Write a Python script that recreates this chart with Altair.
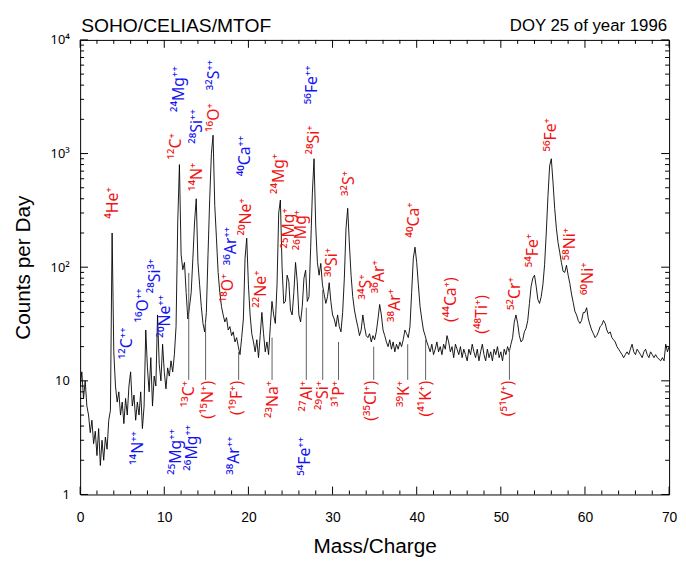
import altair as alt
import pandas as pd

# ---------------- data ----------------
# spectrum sampled every 0.2 mass/charge units, from 0.0 to 70.0
COUNTS = [
    9, 12, 7, 10, 6,            # 0
    5, 3.5, 4.5, 2.8, 3.6,      # 1
    2.2, 3.8, 1.8, 3.0, 2.0,    # 2
    3.2, 2.5, 4.5, 5.5, 200,    # 3
    18, 9, 6.5, 8, 5,           # 4
    6.5, 4.2, 7, 5, 9,          # 5
    12, 6, 7.5, 4.5, 6.5,       # 6
    5, 8, 3.8, 6, 28,           # 7
    13, 8, 16, 6, 11,           # 8
    9, 38, 14, 10, 21,          # 9
    12, 8.5, 13, 11, 15,        # 10
    12, 17, 30, 250, 800,       # 11
    130, 95, 110, 60, 35,       # 12
    45, 60, 120, 250, 400,      # 13
    110, 70, 45, 32, 27,        # 14
    40, 130, 400, 1000, 1450,   # 15
    350, 180, 90, 60, 45,       # 16
    38, 33, 36, 28, 30,         # 17
    25, 27, 22, 24, 20,         # 18
    17, 24, 35, 120, 180,       # 19
    70, 38, 26, 22, 18,         # 20
    23, 16, 25, 40, 26,         # 21
    18, 22, 17, 30, 50,         # 22
    38, 32, 70, 300, 390,       # 23
    100, 48, 50, 85, 75,        # 24
    42, 38, 60, 110, 75,        # 25
    38, 33, 45, 80, 94,         # 26
    50, 55, 150, 450, 900,      # 27
    230, 110, 85, 108, 70,      # 28
    58, 48, 55, 73, 50,         # 29
    38, 35, 30, 38, 30,         # 30
    27, 40, 80, 220, 330,       # 31
    160, 85, 55, 42, 35,        # 32
    30, 25, 28, 38, 30,         # 33
    25, 24, 26, 22, 25,         # 34
    23, 27, 35, 47, 38,         # 35
    28, 25, 22, 20, 23,         # 36
    19, 22, 18, 21, 19,         # 37
    22, 20, 23, 28, 26,         # 38
    24, 30, 60, 120, 150,       # 39
    110, 70, 45, 35, 28,        # 40
    25, 22, 20, 18, 21,         # 41
    17, 19, 22, 18, 20,         # 42
    17, 21, 19, 25, 22,         # 43
    18, 20, 16, 21, 19,         # 44
    17, 20, 16, 19, 17,         # 45
    15, 19, 17, 21, 18,         # 46
    16, 19, 15, 18, 21,         # 47
    17, 15, 19, 16, 18,         # 48
    15, 19, 17, 20, 16,         # 49
    18, 15, 19, 17, 20,         # 50
    18, 21, 24, 33, 38,         # 51
    32, 25, 22, 23, 27,         # 52
    29, 34, 48, 68, 80,         # 53
    85, 68, 52, 48, 55,         # 54
    70, 105, 200, 420, 780,     # 55
    900, 560, 330, 220, 165,    # 56
    135, 110, 92, 90, 104,      # 57
    85, 72, 58, 49, 41,         # 58
    38, 34, 32, 34, 40,         # 59
    40, 44, 35, 31, 28,         # 60
    26, 24, 25, 27, 30,         # 61
    31, 34, 32, 28, 26,         # 62
    27, 24, 23, 22, 20,         # 63
    19, 18, 17, 16, 17,         # 64
    18, 17, 19, 21, 18,         # 65
    17, 19, 18, 17, 16,         # 66
    18, 19, 17, 16, 18,         # 67
    17, 16, 17, 16, 15.5,       # 68
    15, 16, 15, 21, 18,         # 69
    20,                         # 70
]
MASS = [round(i * 0.2, 1) for i in range(len(COUNTS))]

# labels anchored at their lower end
UP_TEXT = ["⁴He⁺", "¹²C⁺", "¹⁴N⁺", "¹⁶O⁺", "¹⁸O⁺", "²⁰Ne⁺", "²²Ne⁺", "²⁴Mg⁺",
           "²⁵Mg⁺", "²⁶Mg⁺", "²⁸Si⁺", "³⁰Si⁺", "³²S⁺", "³⁴S⁺", "³⁶Ar⁺", "³⁸Ar⁺",
           "⁴⁰Ca⁺", "(⁴⁴Ca⁺)", "(⁴⁸Ti⁺)", "⁵²Cr⁺", "⁵⁴Fe⁺", "⁵⁶Fe⁺", "⁵⁸Ni⁺", "⁶⁰Ni⁺",
           "²⁴Mg⁺⁺", "²⁸Si⁺⁺", "³²S⁺⁺", "³⁶Ar⁺⁺", "⁴⁰Ca⁺⁺", "⁵⁶Fe⁺⁺",
           "¹²C⁺⁺", "¹⁶O⁺⁺", "²⁸Si³⁺", "²⁰Ne⁺⁺",
           "¹⁴N⁺⁺", "²⁵Mg⁺⁺", "²⁶Mg⁺⁺", "³⁸Ar⁺⁺", "⁵⁴Fe⁺⁺"]
UP_MASS = [3.87, 11.45, 13.86, 15.87, 17.58, 19.68, 21.49, 23.7,
           24.81, 26.31, 27.82, 29.93, 31.94, 33.95, 35.55, 37.46,
           39.67, 44.09, 47.8, 51.72, 53.83, 55.94, 58.25, 60.36,
           11.75, 13.86, 15.87, 17.88, 19.58, 27.62,
           5.62, 7.53, 8.94, 10.09,
           6.83, 11.35, 13.36, 18.28, 26.71]
UP_COUNT = [267, 887, 467, 1550, 49, 190, 44, 440,
            146, 141, 980, 82, 423, 52, 59, 33,
            182, 33, 26, 42, 100, 1040, 115, 57,
            2320, 1220, 3600, 104, 630, 2720,
            15.5, 32.6, 59, 24,
            1.82, 1.49, 1.62, 1.49, 1.46]
UP_COLOR = ["red"] * 24 + ["blue"] * 15

# labels hanging below the 10 counts level (anchored at their upper end)
LOW_TEXT = ["¹³C⁺", "(¹⁵N⁺)", "(¹⁹F⁺)", "²³Na⁺", "²⁷Al⁺", "²⁹Si⁺", "³¹P⁺",
            "(³⁵Cl⁺)", "³⁹K⁺", "(⁴¹K⁺)", "(⁵¹V⁺)"]
LOW_MASS = [12.91, 15.16, 18.68, 22.9, 26.92, 28.87, 30.73, 34.55, 38.46, 41.08, 50.82]
LOW_COUNT = [10] * 11

# grey marker lines from the hanging labels up to the spectrum
LINE_MASS = [12.91, 14.91, 18.84, 22.81, 26.88, 28.83, 30.71, 34.89, 38.93, 41.06, 51.02]
LINE_LOW = [10.2] * 11
LINE_HIGH = [89, 33, 18, 24, 44, 63, 22, 20, 21, 23, 19]

X_MAJOR = [0, 10, 20, 30, 40, 50, 60, 70]
X_MINOR = [v for v in range(2, 70, 2) if v % 10 != 0]
Y_MAJOR = [1, 10, 100, 1000, 10000]
Y_MINOR = [m * d for d in (1, 10, 100, 1000) for m in range(2, 10)]

RED = "#f01414"
BLUE = "#1414f0"
FONT = "Liberation Sans"
LABEL_FONT = "Noto Sans, DejaVu Sans"

W, H = 596, 460

xs = alt.Scale(domain=[0, 70], nice=False, zero=False)
ys = alt.Scale(type="log", domain=[1, 10000], nice=False)

y_label_expr = ("datum.value < 5 ? '1' : datum.value < 50 ? '10' : datum.value < 500 ? '10²' : "
                "datum.value < 5000 ? '10³' : '10⁴'")

X_AXIS = alt.Axis(values=X_MAJOR, title="Mass/Charge", ticks=False, domain=False, grid=False,
                  labelFont=FONT, labelFontSize=14, labelPadding=16, labelColor="black",
                  titleFont=FONT, titleFontSize=21, titleFontWeight="normal",
                  titleColor="black", titlePadding=12, labelFlush=False)
Y_AXIS = alt.Axis(values=Y_MAJOR, labelExpr=y_label_expr, title="Counts per Day",
                  ticks=False, domain=False, grid=False,
                  labelFont=LABEL_FONT, labelFontSize=13, labelPadding=11, labelColor="black",
                  titleFont=FONT, titleFontSize=21, titleFontWeight="normal",
                  titleColor="black", titlePadding=17, labelFlush=False)

spec_df = pd.DataFrame({"mass": MASS, "counts": COUNTS})
up_df = pd.DataFrame({"mass": UP_MASS, "counts": UP_COUNT, "label": UP_TEXT,
                      "col": [RED if c == "red" else BLUE for c in UP_COLOR]})
low_df = pd.DataFrame({"mass": LOW_MASS, "counts": LOW_COUNT, "label": LOW_TEXT})
line_df = pd.DataFrame({"mass": LINE_MASS, "counts": LINE_LOW, "hi": LINE_HIGH})


def X(field):
    return alt.X(field, scale=xs, axis=X_AXIS)


def Y(field):
    return alt.Y(field, scale=ys, axis=Y_AXIS)


spectrum = alt.Chart(spec_df).mark_line(color="black", strokeWidth=0.9, clip=True).encode(
    x=X("mass:Q"), y=Y("counts:Q"))

lines = alt.Chart(line_df).mark_rule(color="#606060", strokeWidth=1).encode(
    x=X("mass:Q"), y=Y("counts:Q"), y2="hi:Q")

up_labels = alt.Chart(up_df).mark_text(angle=270, align="left", baseline="middle",
                                       font=LABEL_FONT, fontSize=16).encode(
    x=X("mass:Q"), y=Y("counts:Q"), text="label:N",
    color=alt.Color("col:N", scale=None))

low_labels = alt.Chart(low_df).mark_text(angle=270, align="right", baseline="middle",
                                         font=LABEL_FONT, fontSize=16, color=RED).encode(
    x=X("mass:Q"), y=Y("counts:Q"), text="label:N")

xmaj_df = pd.DataFrame({"mass": X_MAJOR})
xmin_df = pd.DataFrame({"mass": X_MINOR})
ymaj_df = pd.DataFrame({"counts": Y_MAJOR})
ymin_df = pd.DataFrame({"counts": Y_MINOR})


def xtick(df, y0, y1):
    return alt.Chart(df).mark_rule(color="black", strokeWidth=1).encode(
        x=X("mass:Q"), y=alt.value(y0), y2=alt.value(y1))


def ytick(df, x0, x1):
    return alt.Chart(df).mark_rule(color="black", strokeWidth=1).encode(
        y=Y("counts:Q"), x=alt.value(x0), x2=alt.value(x1))


ticks = [
    xtick(xmaj_df, H, H - 8), xtick(xmin_df, H, H - 4),
    xtick(xmaj_df, 0, 8), xtick(xmin_df, 0, 4),
    ytick(ymaj_df, 0, 8), ytick(ymin_df, 0, 4),
    ytick(ymaj_df, W, W - 8), ytick(ymin_df, W, W - 4),
]

title_left = alt.Chart(pd.DataFrame({"t": ["SOHO/CELIAS/MTOF"]})).mark_text(
    align="left", baseline="alphabetic", font=FONT, fontSize=19.5, color="black").encode(
    text="t:N", x=alt.value(1), y=alt.value(-8))

title_right = alt.Chart(pd.DataFrame({"t": ["DOY 25 of year 1996"]})).mark_text(
    align="right", baseline="alphabetic", font=FONT, fontSize=17, color="black").encode(
    text="t:N", x=alt.value(W - 2), y=alt.value(-9))

chart = alt.layer(spectrum, lines, up_labels, low_labels, *ticks, title_left, title_right).properties(
    width=W, height=H,
    autosize=alt.AutoSizeParams(type="none"),
    padding={"left": 73, "top": 29, "right": 9, "bottom": 62},
    background="white",
).configure_view(stroke="black", strokeWidth=1)

chart.save("out.html", embed_options={"renderer": "svg", "actions": False})
